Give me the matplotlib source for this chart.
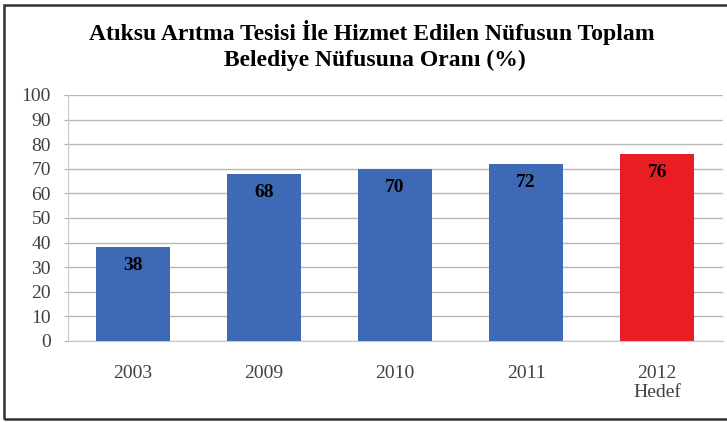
import matplotlib.pyplot as plt
from matplotlib.patches import Rectangle

# Veriler
years = ["2003", "2009", "2010", "2011", "2012\nHedef"]
values = [38, 68, 70, 72, 76]
bar_colors = ["#3d69b5", "#3d69b5", "#3d69b5", "#3d69b5", "#ea1c24"]
yticks = list(range(0, 101, 10))

plt.rcParams["font.family"] = ["Liberation Serif", "DejaVu Serif"]

fig = plt.figure(figsize=(7.27, 4.22), dpi=100)
ax = fig.add_axes([0.093, 0.192, 0.901, 0.583])

x = range(len(years))
ax.bar(x, values, width=0.56, color=bar_colors, zorder=3)

for xi, v in zip(x, values):
    ax.text(xi, v - 4, str(v), ha="center", va="top",
            fontsize=14, fontweight="bold", color="black", zorder=4)

ax.set_xlim(-0.5, len(years) - 0.5)
ax.set_ylim(0, 100)
ax.set_yticks(yticks)
ax.set_xticks(list(x))
ax.set_xticklabels(years, fontsize=14, color="#404040", linespacing=1.15)
ax.tick_params(axis="y", labelsize=14, labelcolor="#404040", length=3,
               color="#b0b0b0", pad=9)
ax.tick_params(axis="x", length=0, pad=17)

ax.grid(axis="y", color="#b8b8b8", linewidth=1.0, zorder=0)
for side in ["top", "right"]:
    ax.spines[side].set_visible(False)
ax.spines["left"].set_color("#c8c8c8")
ax.spines["bottom"].set_color("#c8c8c8")

fig.text(0.512, 0.922, "Atıksu Arıtma Tesisi İle Hizmet Edilen Nüfusun Toplam",
         ha="center", va="center", fontsize=17, fontweight="bold")
fig.text(0.515, 0.857, "Belediye Nüfusuna Oranı (%)",
         ha="center", va="center", fontsize=17, fontweight="bold")

# Dış çerçeve
fig.patches.append(Rectangle((4 / 727, 3 / 422), 1.0, 1 - 8 / 422,
                             transform=fig.transFigure, fill=False,
                             edgecolor="#303030", linewidth=1.8))

fig.savefig("out.png", dpi=100)
